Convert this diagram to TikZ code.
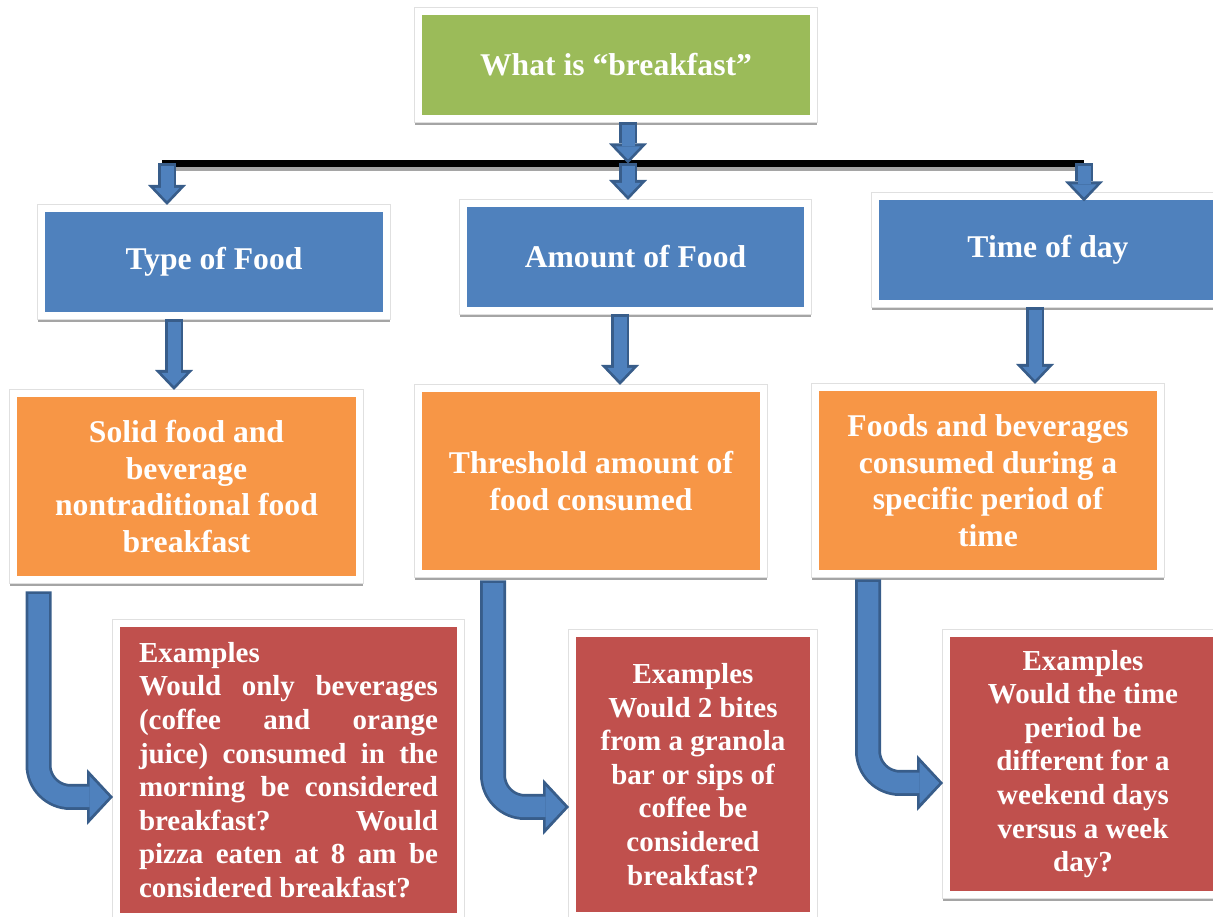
\documentclass[tikz,border=0pt]{standalone}
\usepackage{fontspec}
\setmainfont{Liberation Serif}
\usetikzlibrary{arrows.meta}

\definecolor{leafgreen}{HTML}{9BBB59}
\definecolor{skyblue}{HTML}{4F81BD}
\definecolor{peach}{HTML}{F79646}
\definecolor{brick}{HTML}{C0504D}
\definecolor{arrowedge}{HTML}{385D8A}
\definecolor{boxshadow}{HTML}{A5A5A5}
\tolerance=9999
\hbadness=10000

\tikzset{
  box/.style={fill=#1, draw=white, line width=0.14cm, text=white, inner sep=0pt, align=center,
    font=\bfseries\fontsize{18}{20.8}\selectfont,
    preaction={draw=boxshadow, line width=0.14cm, transform canvas={yshift=-0.06cm}},
    preaction={draw=black!12, line width=0.17cm}},
  smallprint/.style={font=\bfseries\fontsize{16.5}{19.1}\selectfont},
  bar/.style={draw=black, line width=0.14cm,
    preaction={draw=boxshadow, line width=0.14cm, transform canvas={yshift=-0.08cm}}},
  % block arrows: dark outline first, then the lighter inside
  blkout/.style={draw=arrowedge, line width=0.37cm, -{Triangle[width=0.76cm, length=0.40cm, line width=0pt]}},
  blkin/.style={draw=skyblue, line width=0.26cm, shorten <=0.055cm, shorten >=0.081cm,
    -{Triangle[width=0.50cm, length=0.26cm, line width=0pt]}},
  bendout/.style={draw=arrowedge, line width=0.52cm, rounded corners=0.64cm,
    -{Triangle[width=1.12cm, length=0.52cm, line width=0pt]}},
  bendin/.style={draw=skyblue, line width=0.41cm, rounded corners=0.64cm, shorten <=0.055cm, shorten >=0.076cm,
    -{Triangle[width=0.83cm, length=0.39cm, line width=0pt]}},
}

\begin{document}
\begin{tikzpicture}
\useasboundingbox (0,0) rectangle (24.26,18.34);

% top question
\node[box=leafgreen, minimum width=7.90cm, minimum height=2.14cm] (what) at (12.32,17.04) {What is “breakfast”};

% three aspects
\node[box=skyblue, minimum width=6.90cm, minimum height=2.14cm] (type) at (4.28,13.10) {Type of Food};
\node[box=skyblue, minimum width=6.88cm, minimum height=2.14cm] (amount) at (12.71,13.20) {Amount of Food};
\node[box=skyblue, minimum width=6.90cm, minimum height=2.14cm] (time) at (20.96,13.34) {Time of day};

\node[box=peach, minimum width=6.92cm, minimum height=3.72cm] (solid) at (3.73,8.61)
  {Solid food and\\ beverage\\ nontraditional food\\ breakfast};
\node[box=peach, minimum width=6.90cm, minimum height=3.70cm] (threshold) at (11.82,8.72)
  {Threshold amount of\\ food consumed};
\node[box=peach, minimum width=6.90cm, minimum height=3.72cm] (period) at (19.76,8.73)
  {Foods and beverages\\ consumed during a\\ specific period of\\ time};

% examples
\node[box=brick, smallprint, minimum width=6.88cm, minimum height=5.86cm, text width=5.98cm, align=justify] (exA) at (5.77,2.94)
  {Examples\\ Would only beverages\linebreak (coffee and orange\linebreak juice) consumed in the\linebreak
   morning be considered\linebreak breakfast? Would\linebreak pizza eaten at 8 am be\linebreak considered breakfast?};
\node[box=brick, smallprint, minimum width=4.82cm, minimum height=5.64cm] (exB) at (13.86,2.85)
  {Examples\\ Would 2 bites\\ from a granola\\ bar or sips of\\ coffee be\\ considered\\ breakfast?};
\node[box=brick, smallprint, minimum width=5.46cm, minimum height=5.22cm] (exC) at (21.66,3.06)
  {Examples\\ Would the time\\ period be\\ different for a\\ weekend days\\ versus a week\\ day?};

% branching bar
\coordinate (hub) at (12.56,15.07);
\coordinate (legL) at (3.34,15.07);
\coordinate (legR) at (21.68,15.07);
\coordinate (dropA) at (3.48,0);
\coordinate (dropB) at (12.40,0);
\coordinate (dropC) at (20.70,0);
\draw[bar] ([xshift=-0.10cm]legL) -- (legR);
\path (legR |- time.north) ++(0,-0.17) coordinate (timeIn);

\coordinate (bendA) at ([xshift=0.57cm,yshift=-0.17cm]solid.south west);
\coordinate (bendB) at ([xshift=1.56cm,yshift=-0.07cm]threshold.south west);
\coordinate (bendC) at ([xshift=1.12cm,yshift=-0.05cm]period.south west);
\coordinate (tipA) at ([yshift=-0.54cm]exA.west);
\coordinate (tipB) at ([yshift=-0.65cm]exB.west);
\coordinate (tipC) at ([yshift=-0.38cm]exC.west);

\foreach \lay in {blkout,blkin} {
  \draw[\lay] (hub |- what.south) -- (hub);
  \draw[\lay] (hub) -- (hub |- amount.north);
  \draw[\lay] (legL) -- (legL |- type.north);
  \draw[\lay] (legR) -- (timeIn);
  \draw[\lay] (dropA |- type.south) -- (dropA |- solid.north);
  \draw[\lay] (dropB |- amount.south) -- (dropB |- threshold.north);
  \draw[\lay] (dropC |- time.south) -- (dropC |- period.north);
}
\foreach \lay in {bendout,bendin} {
  \draw[\lay] (bendA) |- (tipA);
  \draw[\lay] (bendB) |- (tipB);
  \draw[\lay] (bendC) |- (tipC);
}
\end{tikzpicture}
\end{document}
